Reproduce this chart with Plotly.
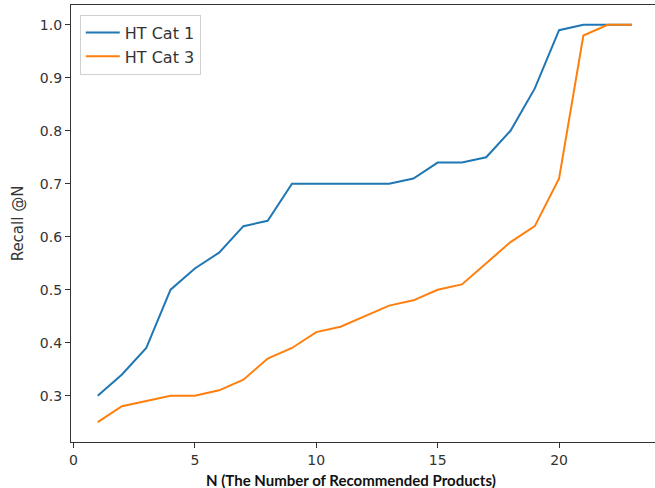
import plotly.graph_objects as go

n_values = list(range(1, 24))
ht_cat1 = [0.30, 0.34, 0.39, 0.50, 0.54, 0.57, 0.62, 0.63, 0.70, 0.70, 0.70, 0.70,
           0.70, 0.71, 0.74, 0.74, 0.75, 0.80, 0.88, 0.99, 1.00, 1.00, 1.00]
ht_cat3 = [0.25, 0.28, 0.29, 0.30, 0.30, 0.31, 0.33, 0.37, 0.39, 0.42, 0.43, 0.45,
           0.47, 0.48, 0.50, 0.51, 0.55, 0.59, 0.62, 0.71, 0.98, 1.00, 1.00]
x_ticks = [0, 5, 10, 15, 20]
y_ticks = [0.3, 0.4, 0.5, 0.6, 0.7, 0.8, 0.9, 1.0]

fig = go.Figure()
fig.add_trace(go.Scatter(x=n_values, y=ht_cat1, mode="lines", name="HT Cat 1",
                         line=dict(color="#1f77b4", width=2)))
fig.add_trace(go.Scatter(x=n_values, y=ht_cat3, mode="lines", name="HT Cat 3",
                         line=dict(color="#ff7f0e", width=2)))

axis_common = dict(showgrid=False, zeroline=False, showline=True, linecolor="#333333",
                   linewidth=1.2, mirror=True, ticks="outside", ticklen=5, tickwidth=1,
                   tickcolor="#333333",
                   tickfont=dict(family="DejaVu Sans", size=14, color="#333333"))

fig.update_xaxes(range=[-0.1, 23.95], tickvals=x_ticks, ticktext=[str(v) for v in x_ticks],
                 **axis_common)
fig.update_yaxes(range=[0.2125, 1.0375], tickvals=y_ticks,
                 ticktext=[f"{v:.1f}" for v in y_ticks],
                 title=dict(text="Recall @N", font=dict(family="DejaVu Sans", size=15,
                                                         color="#333333"), standoff=12),
                 **axis_common)

fig.add_annotation(text="<b>N (The Number of Recommended Products)</b>",
                   xref="paper", yref="paper", x=(351 - 71) / 584, y=-(480 - 442) / 437,
                   xanchor="center", yanchor="middle", showarrow=False,
                   font=dict(family="Lato", size=15, color="#111111"))

fig.update_layout(
    width=655, height=488,
    margin=dict(l=71, r=0, t=5, b=46),
    plot_bgcolor="white", paper_bgcolor="white",
    showlegend=True,
    legend=dict(x=0.015, y=0.978, xanchor="left", yanchor="top",
                bgcolor="rgba(255,255,255,0.8)", bordercolor="#d0d0d0", borderwidth=1,
                font=dict(family="DejaVu Sans", size=16, color="#333333"),
                tracegroupgap=0, itemwidth=34),
)

fig.write_html("out.html")
